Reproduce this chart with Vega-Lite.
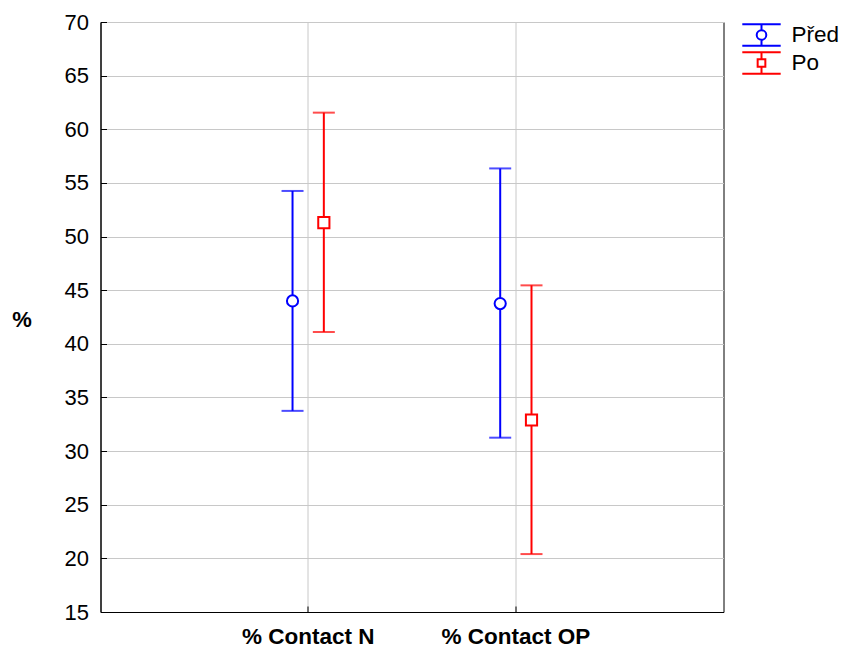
{
  "$schema": "https://vega.github.io/schema/vega-lite/v6.json",
  "width": 623,
  "height": 590,
  "autosize": "none",
  "padding": {"left": 100.5, "top": 22, "right": 118.5, "bottom": 37},
  "background": "white",
  "config": {
    "font": "Liberation Sans",
    "view": {"stroke": "black", "strokeWidth": 1},
    "axis": {
      "domainColor": "black",
      "tickColor": "black",
      "gridColor": "#c8c8c8",
      "gridWidth": 1,
      "labelColor": "black",
      "labelFont": "Liberation Sans",
      "labelFontSize": 22,
      "tickSize": -6
    }
  },
  "resolve": {"legend": {"color": "independent", "shape": "independent"}},
  "data": {
    "values": [
      {"var": "% Contact N", "group": "Před", "mean": 44.0, "lo": 33.75, "hi": 54.25},
      {"var": "% Contact N", "group": "Po", "mean": 51.3, "lo": 41.1, "hi": 61.55},
      {"var": "% Contact OP", "group": "Před", "mean": 43.75, "lo": 31.25, "hi": 56.35},
      {"var": "% Contact OP", "group": "Po", "mean": 32.9, "lo": 20.4, "hi": 45.45}
    ]
  },
  "encoding": {
    "x": {
      "field": "var",
      "type": "nominal",
      "sort": ["% Contact N", "% Contact OP"],
      "scale": {"paddingInner": 0, "paddingOuter": 0.5},
      "axis": {
        "title": null,
        "labelAngle": 0,
        "labelFontWeight": "bold",
        "labelFontSize": 22.5,
        "labelPadding": 19,
        "grid": true,
        "bandPosition": 0.5,
        "domain": true
      }
    },
    "xOffset": {
      "field": "group",
      "type": "nominal",
      "sort": ["Před", "Po"],
      "scale": {"paddingInner": 0, "paddingOuter": 0, "range": [72.55, 135.15]}
    }
  },
  "layer": [
    {
      "mark": {"type": "rule", "strokeWidth": 2},
      "encoding": {
        "y": {
          "field": "lo",
          "type": "quantitative",
          "scale": {"domain": [15, 70], "nice": false, "zero": false},
          "axis": {
            "values": [15, 20, 25, 30, 35, 40, 45, 50, 55, 60, 65, 70],
            "grid": true,
            "labelPadding": 18,
            "title": "%",
            "titleAngle": 0,
            "titleFontWeight": "bold",
            "titleFontSize": 22,
            "titleFont": "Liberation Sans",
            "titleColor": "black",
            "titleX": -79,
            "titleY": 297,
            "titleAlign": "center",
            "titleBaseline": "middle"
          }
        },
        "y2": {"field": "hi"},
        "color": {"field": "group", "type": "nominal", "scale": {"domain": ["Před", "Po"], "range": ["#0000ff", "#ff0000"]}, "legend": null}
      }
    },
    {
      "mark": {"type": "tick", "thickness": 2, "size": 22},
      "encoding": {
        "y": {"field": "lo", "type": "quantitative"},
        "color": {"field": "group", "type": "nominal", "legend": null}
      }
    },
    {
      "mark": {"type": "tick", "thickness": 2, "size": 22},
      "encoding": {
        "y": {"field": "hi", "type": "quantitative"},
        "color": {"field": "group", "type": "nominal", "legend": null}
      }
    },
    {
      "transform": [{"filter": "datum.group === 'Po'"}],
      "mark": {"type": "point", "shape": "square", "filled": false, "fill": "white", "fillOpacity": 1, "strokeWidth": 2, "size": 125, "opacity": 1},
      "encoding": {
        "y": {"field": "mean", "type": "quantitative"},
        "color": {"field": "group", "type": "nominal", "legend": null}
      }
    },
    {
      "transform": [{"filter": "datum.group === 'Před'"}],
      "mark": {"type": "point", "shape": "circle", "filled": false, "fill": "white", "fillOpacity": 1, "strokeWidth": 2, "size": 125, "opacity": 1},
      "encoding": {
        "y": {"field": "mean", "type": "quantitative"},
        "color": {"field": "group", "type": "nominal", "legend": null}
      }
    },
    {
      "mark": {"type": "point", "filled": false, "opacity": 0, "strokeWidth": 2},
      "encoding": {
        "y": {"field": "mean", "type": "quantitative"},
        "color": {
          "field": "group",
          "type": "nominal",
          "legend": {
            "title": null,
            "orient": "right",
            "offset": 25,
            "padding": 0,
            "symbolSize": 576,
            "symbolStrokeWidth": 2,
            "symbolOpacity": 1,
            "labelFontSize": 22.5,
            "labelFont": "Liberation Sans",
            "labelColor": "black",
            "labelOffset": 17,
            "rowPadding": -3
          }
        },
        "shape": {
          "field": "group",
          "type": "nominal",
          "scale": {
            "domain": ["Před", "Po"],
            "range": [
              "M-1.6,-0.9H1.6M-1.6,0.9H1.6M0,-0.9V-0.4M0,0.4V0.9M-0.4,0A0.4,0.4 0 1,0 0.4,0A0.4,0.4 0 1,0 -0.4,0Z",
              "M-1.6,-0.9H1.6M-1.6,0.9H1.6M0,-0.9V-0.32M0,0.32V0.9M-0.32,-0.32H0.32V0.32H-0.32Z"
            ]
          },
          "legend": {
            "title": null,
            "orient": "right",
            "offset": 25,
            "padding": 0,
            "symbolSize": 576,
            "symbolStrokeWidth": 2,
            "symbolOpacity": 1,
            "labelFontSize": 22.5,
            "labelFont": "Liberation Sans",
            "labelColor": "black",
            "labelOffset": 17,
            "rowPadding": -3
          }
        }
      }
    }
  ]
}
